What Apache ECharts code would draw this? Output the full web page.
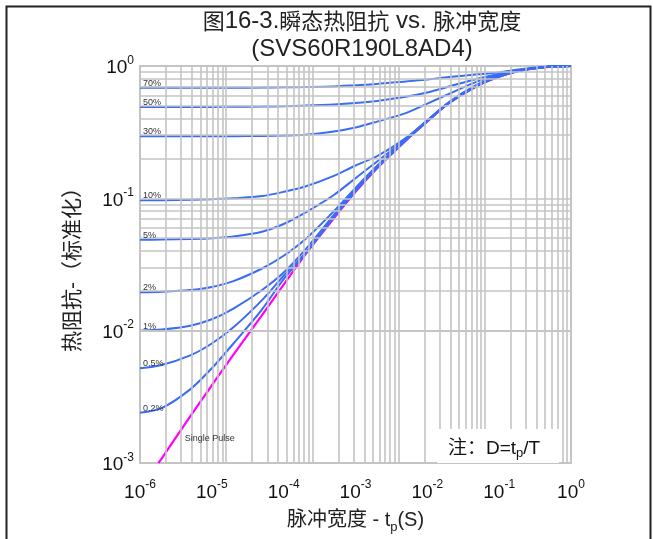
<!DOCTYPE html>
<html><head><meta charset="utf-8">
<script src="https://cdn.jsdelivr.net/npm/echarts@6/dist/echarts.min.js"></script>
<style>html,body{margin:0;padding:0;background:#fff}#c{width:653px;height:539px}</style>
</head><body><div id="c"></div>
<script>
// ---- data ----
const tValues = [1e-6,2e-6,5e-6,1e-5,2e-5,5e-5,1e-4,2e-4,5e-4,1e-3,2e-3,5e-3,1e-2,2e-2,5e-2,0.1,0.2,0.5,1];
const d70 = [0.685,0.685,0.685,0.686,0.686,0.687,0.69,0.693,0.70,0.715,0.732,0.765,0.79,0.825,0.865,0.895,0.945,0.99,1.0];
const d50 = [0.49,0.49,0.49,0.491,0.492,0.494,0.497,0.502,0.512,0.525,0.545,0.585,0.63,0.70,0.80,0.87,0.935,0.985,1.0];
const d30 = [0.294,0.294,0.294,0.295,0.295,0.296,0.298,0.302,0.32,0.343,0.38,0.44,0.52,0.615,0.765,0.855,0.93,0.985,1.0];
const d10 = [0.0966,0.0968,0.0975,0.0985,0.100,0.104,0.112,0.123,0.148,0.177,0.208,0.285,0.39,0.535,0.725,0.845,0.93,0.985,1.0];
const d5  = [0.0486,0.0488,0.0493,0.050,0.0515,0.056,0.064,0.078,0.106,0.142,0.19,0.28,0.386,0.53,0.72,0.84,0.928,0.985,1.0];
const d2  = [0.0195,0.0197,0.0203,0.0214,0.0237,0.0295,0.0368,0.049,0.08,0.12,0.176,0.278,0.385,0.528,0.715,0.837,0.927,0.985,1.0];
const d1  = [0.0100,0.0102,0.0109,0.0122,0.0147,0.0203,0.0275,0.041,0.075,0.117,0.173,0.276,0.384,0.527,0.713,0.835,0.926,0.985,1.0];
const d05 = [0.0052,0.0055,0.0065,0.0080,0.0106,0.0170,0.026,0.0385,0.073,0.115,0.171,0.275,0.383,0.526,0.712,0.834,0.926,0.985,1.0];
const d02 = [0.0024,0.0026,0.0036,0.0052,0.0080,0.0145,0.0245,0.038,0.072,0.113,0.170,0.274,0.382,0.525,0.711,0.833,0.925,0.985,1.0];
const spT = [1.8e-6,2e-6,5e-6,1e-5,2e-5,5e-5,1e-4,2e-4,5e-4,1e-3,2e-3,5e-3,1e-2,2e-2,5e-2,0.1,0.2,0.5,1];
const spV = [0.001,0.00108,0.00225,0.00386,0.0066,0.0131,0.0223,0.0376,0.0706,0.112,0.169,0.273,0.381,0.524,0.709,0.83,0.925,0.985,1.0];
const dutySeries = [
  {name:'70%', v:d70},{name:'50%', v:d50},{name:'30%', v:d30},{name:'10%', v:d10},{name:'5%', v:d5},
  {name:'2%', v:d2},{name:'1%', v:d1},{name:'0.5%', v:d05},{name:'0.2%', v:d02}
];
const xExponents = [-6,-5,-4,-3,-2,-1,0];
const yExponents = [-3,-2,-1,0];
// the drawn grid of the original spans 5 decades across the plot
const gridDecades = [1,10,100,1000,10000];
const gridMultipliers = [1,2,3,4,5,6,7,8,9];
const yGridDecades = [0.001,0.01,0.1];

const FONT = "'Liberation Sans', Arial, 'Noto Sans CJK SC', sans-serif";
const CJK = "'Noto Sans CJK SC', sans-serif";
const BLUE = '#3a6cf4';
const GRIDC = '#c4c4c4';

const xGridLines = [];
gridDecades.forEach(d => gridMultipliers.forEach(m => { const v = d*m; if (v > 1) xGridLines.push({xAxis: v}); }));
const yGridLines = [];
yGridDecades.forEach(d => gridMultipliers.forEach(m => { const v = d*m; if (v > 0.001) yGridLines.push({yAxis: v}); }));

function expLabel(v){
  const e = Math.round(Math.log10(v));
  return '{b|10}{s|' + e + '}';
}
const labelRich = {
  b:{fontSize:19, fontFamily:FONT, color:'#111', verticalAlign:'bottom', lineHeight:23},
  s:{fontSize:12, fontFamily:FONT, color:'#111', verticalAlign:'top', lineHeight:23}
};
const transparent = 'rgba(0,0,0,0)';

const series = [];
series.push({
  type:'line', xAxisIndex:1, yAxisIndex:0, data:[[10,0.5]], symbol:'none',
  lineStyle:{width:0, opacity:0}, silent:true, z:1, animation:false,
  markLine:{silent:true, symbol:'none', animation:false, label:{show:false},
    lineStyle:{color:GRIDC, width:1.6, type:'solid'}, emphasis:{disabled:true},
    data: xGridLines.concat(yGridLines)}
});
series.push({
  type:'line', name:'Single Pulse', data: spT.map((t,i)=>[t, spV[i]]),
  symbol:'none', smooth:0.3, z:3,
  lineStyle:{color:'#ff00ff', width:2.2}, animation:false,
  markPoint:{symbol:'circle', symbolSize:2, itemStyle:{color:transparent}, animation:false, silent:true,
    label:{show:true},
    data:[{coord:[4.2e-6, 0.0016], label:{show:true, formatter:'Single Pulse', position:[1,-1],
      fontSize:9, fontFamily:FONT, color:'#333'}}]}
});
dutySeries.forEach(s => {
  series.push({
    type:'line', name:s.name, data: tValues.map((t,i)=>[t, s.v[i]]),
    symbol:'none', smooth:0.3, z:4,
    lineStyle:{color:BLUE, width:2}, animation:false,
    markPoint:{symbol:'circle', symbolSize:2, itemStyle:{color:transparent}, animation:false, silent:true,
      label:{show:true},
      data:[{coord:[tValues[0], s.v[0]], label:{show:true, formatter:s.name, position:[4,-8],
        fontSize:9, fontFamily:FONT, color:'#333'}}]}
  });
});

const chart = echarts.init(document.getElementById('c'), null, {renderer:'canvas'});
chart.setOption({
  backgroundColor:'#fff',
  animation:false,
  title:{
    text:'{c|图}{l|16-3.}{c|瞬态热阻抗}{l| vs. }{c|脉冲宽度}\n{l|(SVS60R190L8AD4)}',
    left:357, top:2, textAlign:'center',
    textStyle:{fontSize:22, fontWeight:'normal', fontFamily:FONT, color:'#222', lineHeight:28,
      rich:{c:{fontSize:22, fontFamily:CJK, color:'#222', lineHeight:28},
            l:{fontSize:24, fontFamily:FONT, color:'#222', lineHeight:28}}}
  },
  grid:{left:140, right:82, top:66, bottom:71, show:true, borderColor:GRIDC, borderWidth:2, backgroundColor:'transparent'},
  xAxis:[{
    type:'log', logBase:10, min:1e-6, max:1, splitNumber:6, interval:1,
    axisLine:{show:false}, axisTick:{show:false}, splitLine:{show:false},
    axisLabel:{formatter:expLabel, rich:labelRich, margin:16},
    name:'{c|脉冲宽度 - }{t|t}{p|p}{t|(S)}', nameLocation:'middle', nameGap:47,
    nameTextStyle:{fontSize:20, fontFamily:FONT, color:'#222',
      rich:{c:{fontSize:20, fontFamily:FONT, color:'#222', verticalAlign:'top', lineHeight:24},
            t:{fontSize:20, fontFamily:FONT, color:'#222', verticalAlign:'top', lineHeight:24},
            p:{fontSize:13, fontFamily:FONT, color:'#222', verticalAlign:'bottom', lineHeight:14}}}
  },{
    type:'log', logBase:10, min:1, max:100000, show:false
  }],
  yAxis:[{
    type:'log', logBase:10, min:0.001, max:1, splitNumber:3, interval:1,
    axisLine:{show:false}, axisTick:{show:false}, splitLine:{show:false},
    axisLabel:{formatter:expLabel, rich:labelRich, margin:6},
    name:'热阻抗-（标准化）', nameLocation:'middle', nameGap:56, nameRotate:90,
    nameTextStyle:{fontSize:21, fontFamily:FONT, color:'#222'}
  }],
  graphic:[
    {type:'rect', left:437, top:429, shape:{width:122, height:34}, style:{fill:'#fff'}, z:10},
    {type:'text', left:448, top:439, z:11, style:{
      text:'{a|注：D=t}{p|p}{a|/T}',
      rich:{a:{fontSize:19, fontFamily:FONT, fill:'#111', verticalAlign:'top', lineHeight:21},
            p:{fontSize:13, fontFamily:FONT, fill:'#111', verticalAlign:'bottom', lineHeight:13}}}},
    {type:'rect', left:4, top:4, shape:{width:644, height:545}, style:{fill:null, stroke:'#222', lineWidth:2}, z:12, silent:true}
  ],
  series: series
});
</script></body></html>
